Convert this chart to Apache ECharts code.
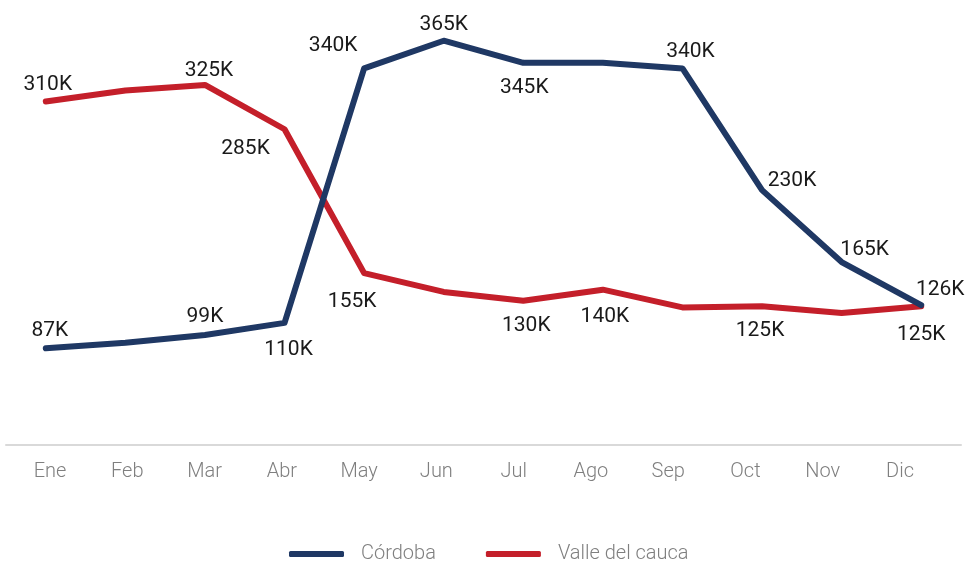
<!DOCTYPE html>
<html>
<head>
<meta charset="utf-8">
<script src="https://cdn.jsdelivr.net/npm/echarts@6/dist/echarts.min.js"></script>
<style>html,body{margin:0;padding:0;background:#fff}#c{width:966px;height:561px}</style>
</head>
<body>
<div id="c"></div>
<script>
const months = ['Ene','Feb','Mar','Abr','May','Jun','Jul','Ago','Sep','Oct','Nov','Dic'];
const cordoba = [87000,92000,99000,110000,340000,365000,345000,345000,340000,230000,165000,126000];
const valle = [310000,320000,325000,285000,155000,138000,130000,140000,124000,125000,119000,125000];
const cordobaLabels = ['87K',null,'99K','110K','340K','365K','345K',null,'340K','230K','165K','126K'];
const valleLabels = ['310K',null,'325K','285K','155K',null,'130K','140K',null,'125K',null,'125K'];

const cordobaOffsets = [[4,-18],null,[0,-18],[4,27],[-31,-23],[0,-16],[1,25],null,[8,-17],[30,-9],[23,-12],[19,-15]];
const valleOffsets = [[2,-17],null,[4,-14],[-39,20],[-12,29],null,[3,25],[2,27],null,[-2,24],null,[0,28]];

const FONT = 'Roboto';
function buildData(vals, labels, offsets){
  return vals.map((v,i)=>{
    if(!labels[i]) return {value:v, label:{show:false}};
    return {value:v, label:{show:true, position:'inside', offset:offsets[i], formatter:labels[i]}};
  });
}
const chart = echarts.init(document.getElementById('c'), null, {renderer:'canvas'});
chart.setOption({
  animation:false,
  backgroundColor:'#fff',
  grid:[
    {left:6, right:5, top:2, bottom:116.4},
    {left:50, right:66, top:2, bottom:116.4}
  ],
  xAxis:[
    {type:'category', data:months, gridIndex:0, boundaryGap:true,
     axisLine:{show:true, lineStyle:{color:'#d9d9d9', width:2}},
     axisTick:{show:false}, axisLabel:{show:false}, splitLine:{show:false}},
    {type:'category', data:months, gridIndex:1, boundaryGap:false,
     axisLine:{show:false}, axisTick:{show:false}, splitLine:{show:false},
     axisLabel:{show:true, color:'#7f7f7f', fontSize:20, fontWeight:300, fontFamily:FONT, margin:17}}
  ],
  yAxis:[
    {type:'value', gridIndex:0, min:0, max:400000, show:false},
    {type:'value', gridIndex:1, min:0, max:400000, show:false}
  ],
  legend:{
    data:['Córdoba','Valle del cauca'],
    left:284, top:539, icon:'roundRect', itemWidth:55, itemHeight:6, itemGap:50,
    textStyle:{color:'#7f7f7f', fontSize:20, fontWeight:300, fontFamily:FONT, padding:[0,0,0,12]}
  },
  series:[
    {name:'Córdoba', type:'line', xAxisIndex:0, yAxisIndex:0,
     data:buildData(cordoba, cordobaLabels, cordobaOffsets),
     symbol:'circle', symbolSize:2, showSymbol:true,
     lineStyle:{color:'#1F3864', width:6, cap:'round', join:'round'},
     itemStyle:{color:'#1F3864'},
     label:{color:'#1a1a1a', fontSize:21, fontFamily:FONT},
     z:3},
    {name:'Valle del cauca', type:'line', xAxisIndex:0, yAxisIndex:0,
     data:buildData(valle, valleLabels, valleOffsets),
     symbol:'circle', symbolSize:2, showSymbol:true,
     lineStyle:{color:'#C41F2A', width:6, cap:'round', join:'round'},
     itemStyle:{color:'#C41F2A'},
     label:{color:'#1a1a1a', fontSize:21, fontFamily:FONT},
     z:2}
  ]
});
</script>
</body>
</html>
